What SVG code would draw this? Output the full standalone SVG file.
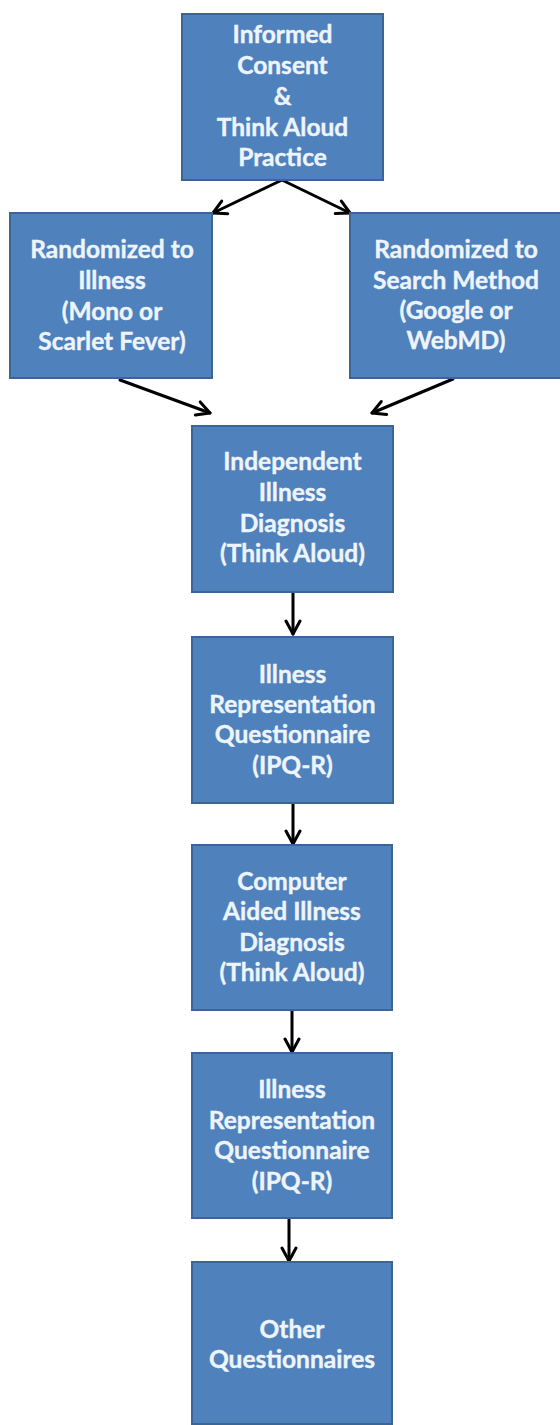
<svg xmlns="http://www.w3.org/2000/svg" width="560" height="1425" viewBox="0 0 560 1425">
<defs>
<style>
.box{fill:#4f81bd;stroke:#3b6595;stroke-width:2}
.t{font-family:Lato,"Open Sans","Liberation Sans",sans-serif;font-weight:700;font-size:24.5px;fill:#eef4fb;text-anchor:middle;stroke:#eef4fb;stroke-width:0.4}
.c{stroke:#000;stroke-width:3;fill:none;stroke-linecap:round}
</style>
<marker id="ah" markerUnits="userSpaceOnUse" viewBox="0 0 18 18" markerWidth="18" markerHeight="18" refX="16" refY="9" orient="auto">
<path d="M3,2 L16,9 L3,16" fill="none" stroke="#000" stroke-width="3" stroke-linecap="round" stroke-linejoin="round"/>
</marker>
</defs>
<rect width="560" height="1425" fill="#fff"/>
<g id="connectors">
<path class="c" d="M282,180 L213,213" marker-end="url(#ah)"/>
<path class="c" d="M282,180 L350,213" marker-end="url(#ah)"/>
<path class="c" d="M120,380 L210,413" marker-end="url(#ah)"/>
<path class="c" d="M453,379 L372,413" marker-end="url(#ah)"/>
<path class="c" d="M293,593 L293,634" marker-end="url(#ah)"/>
<path class="c" d="M293,804 L293,844" marker-end="url(#ah)"/>
<path class="c" d="M292,1011 L292,1052" marker-end="url(#ah)"/>
<path class="c" d="M289,1219 L289,1261" marker-end="url(#ah)"/>
</g>
<g id="n1">
<rect class="box" x="182" y="14" width="201" height="166"/>
<text class="t" x="282.5" y="43">Informed</text>
<text class="t" x="282.5" y="74">Consent</text>
<text class="t" x="282.5" y="105">&amp;</text>
<text class="t" x="282.5" y="135.5">Think Aloud</text>
<text class="t" x="282.5" y="166">Practice</text>
</g>
<g id="n2">
<rect class="box" x="10" y="213" width="202" height="165"/>
<text class="t" x="112" y="258">Randomized to</text>
<text class="t" x="112" y="289">Illness</text>
<text class="t" x="112" y="320">(Mono or</text>
<text class="t" x="112" y="350">Scarlet Fever)</text>
</g>
<g id="n3">
<rect class="box" x="350" y="213" width="212" height="165"/>
<text class="t" x="456" y="258">Randomized to</text>
<text class="t" x="456" y="289">Search Method</text>
<text class="t" x="456" y="319">(Google or</text>
<text class="t" x="456" y="349">WebMD)</text>
</g>
<g id="n4">
<rect class="box" x="192" y="426" width="201" height="166"/>
<text class="t" x="292.5" y="470">Independent</text>
<text class="t" x="292.5" y="501">Illness</text>
<text class="t" x="292.5" y="532">Diagnosis</text>
<text class="t" x="292.5" y="562">(Think Aloud)</text>
</g>
<g id="n5">
<rect class="box" x="192" y="637" width="201" height="166"/>
<text class="t" x="292.5" y="683">Illness</text>
<text class="t" x="292.5" y="713">Representation</text>
<text class="t" x="292.5" y="743">Questionnaire</text>
<text class="t" x="292.5" y="774">(IPQ-R)</text>
</g>
<g id="n6">
<rect class="box" x="192" y="845" width="200" height="165"/>
<text class="t" x="292" y="890">Computer</text>
<text class="t" x="292" y="920">Aided Illness</text>
<text class="t" x="292" y="951">Diagnosis</text>
<text class="t" x="292" y="981">(Think Aloud)</text>
</g>
<g id="n7">
<rect class="box" x="192" y="1053" width="200" height="165"/>
<text class="t" x="292" y="1098">Illness</text>
<text class="t" x="292" y="1129">Representation</text>
<text class="t" x="292" y="1159">Questionnaire</text>
<text class="t" x="292" y="1190">(IPQ-R)</text>
</g>
<g id="n8">
<rect class="box" x="192" y="1262" width="200" height="162"/>
<text class="t" x="292" y="1338">Other</text>
<text class="t" x="292" y="1368">Questionnaires</text>
</g>
</svg>
